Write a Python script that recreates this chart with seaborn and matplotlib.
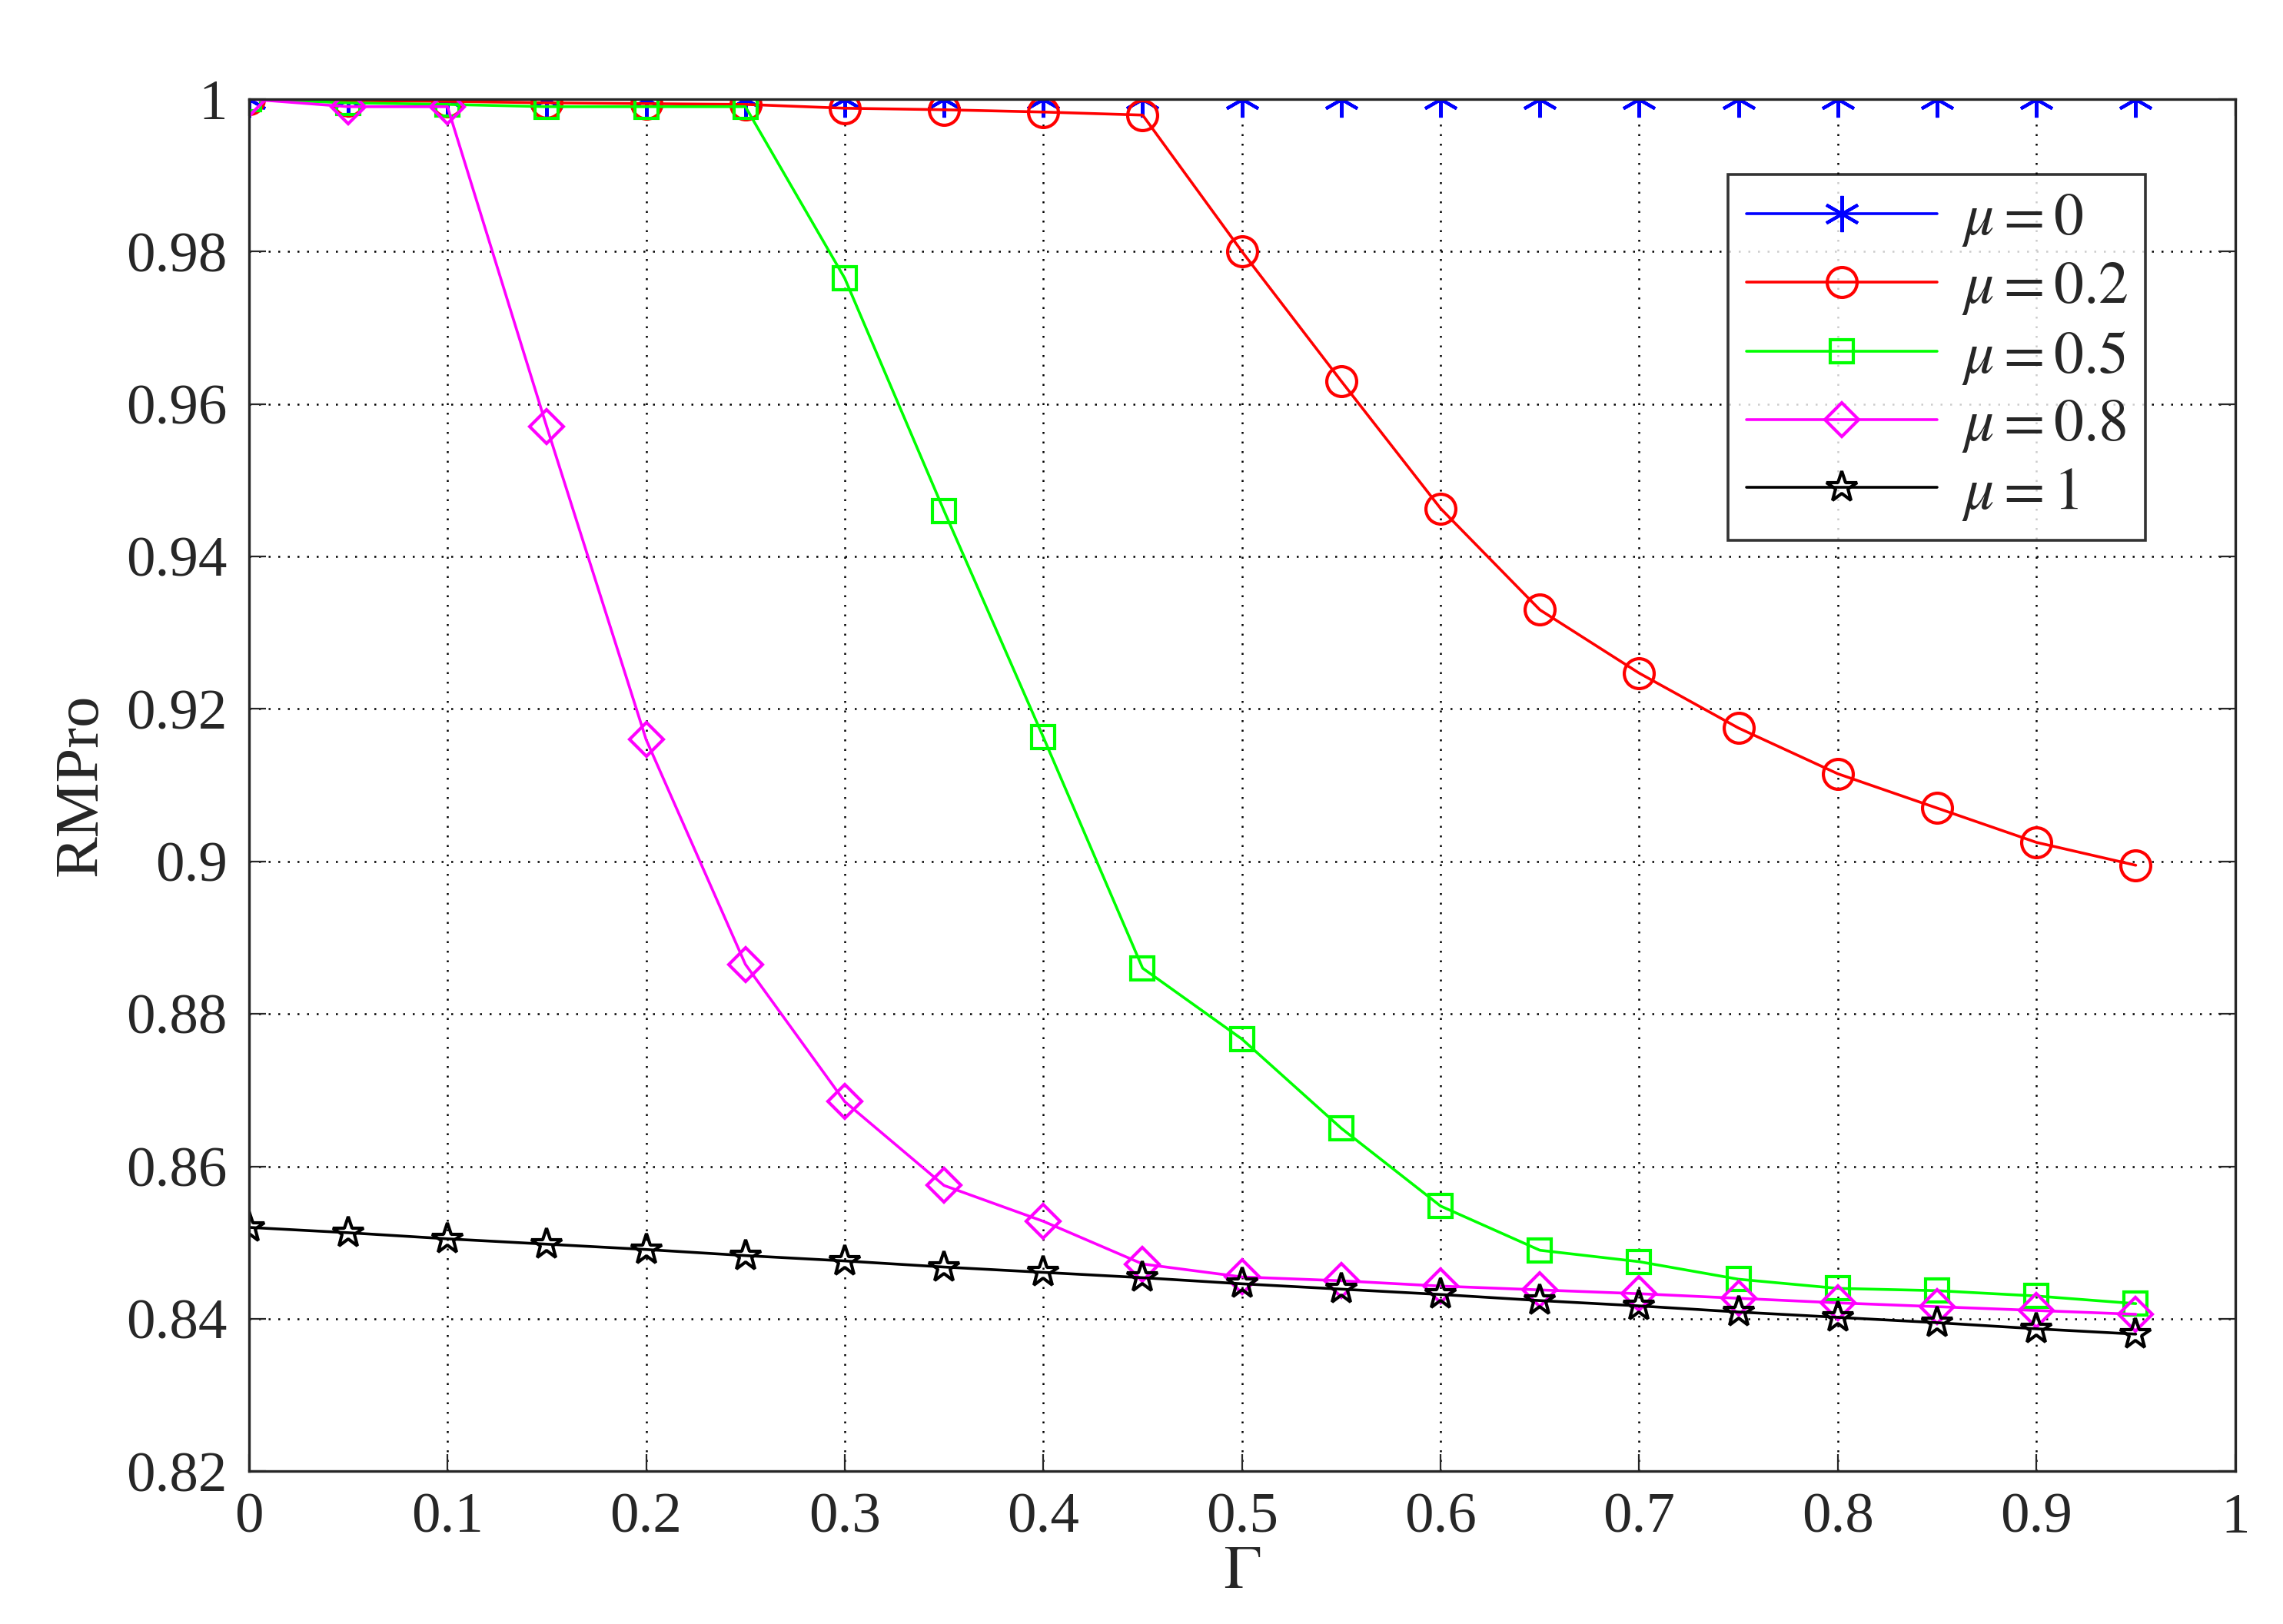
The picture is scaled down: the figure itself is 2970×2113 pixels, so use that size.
import matplotlib
matplotlib.use("Agg")
import matplotlib.pyplot as plt
import seaborn as sns
import pandas as pd
import numpy as np

sns.set_style("ticks")
plt.rcParams['font.family'] = ['Liberation Serif', 'DejaVu Serif']
plt.rcParams['mathtext.fontset'] = 'stix'

gamma = [0, 0.05, 0.1, 0.15, 0.2, 0.25, 0.3, 0.35, 0.4, 0.45, 0.5, 0.55, 0.6, 0.65, 0.7, 0.75, 0.8, 0.85, 0.9, 0.95]
mu_0 = [1.0] * 20
mu_02 = [1, 0.9998, 0.9997, 0.9995, 0.9994, 0.9993, 0.9988, 0.9986, 0.9983, 0.9979, 0.980, 0.963, 0.9463, 0.933, 0.9247, 0.9175, 0.9115, 0.907, 0.9025, 0.8995]
mu_05 = [1, 0.9995, 0.9993, 0.999, 0.999, 0.999, 0.9765, 0.946, 0.9163, 0.886, 0.8767, 0.865, 0.8548, 0.849, 0.8475, 0.8452, 0.844, 0.8437, 0.843, 0.842]
mu_08 = [1, 0.9990, 0.9990, 0.957, 0.916, 0.8865, 0.8685, 0.8575, 0.8528, 0.8472, 0.8455, 0.845, 0.8443, 0.8438, 0.8433, 0.8427, 0.8421, 0.8416, 0.8411, 0.8406]
mu_1 = [0.852, 0.8513, 0.8505, 0.8498, 0.8491, 0.8483, 0.8476, 0.8468, 0.8461, 0.8454, 0.8446, 0.8439, 0.8432, 0.8424, 0.8417, 0.8409, 0.8402, 0.8395, 0.8387, 0.838]

series = [(r'$\mu = 0$', mu_0, 'blue', (6, 2, 0)),
          (r'$\mu = 0.2$', mu_02, 'red', 'o'),
          (r'$\mu = 0.5$', mu_05, '#00ff00', 's'),
          (r'$\mu = 0.8$', mu_08, 'magenta', 'D'),
          (r'$\mu = 1$', mu_1, 'black', '*')]

fig = plt.figure(figsize=(14.85, 10.565), dpi=200)
ax = fig.add_axes([0.109, 0.094, 0.870, 0.845])
for lab, vals, col, mk in series:
    df = pd.DataFrame({'g': gamma, 'v': vals})
    ms = {'o': 14, 's': 11, 'D': 11, '*': 15}.get(mk, 16) if isinstance(mk, str) else 17
    sns.lineplot(data=df, x='g', y='v', ax=ax, color=col, marker=mk, markersize=ms,
                 markerfacecolor='none', markeredgecolor=col, markeredgewidth=1.5,
                 linewidth=1.3, label=lab)

ax.set_xlim(0, 1)
ax.set_ylim(0.82, 1.0)
ax.set_xticks(np.arange(0, 1.01, 0.1))
ax.set_xticklabels(['0', '0.1', '0.2', '0.3', '0.4', '0.5', '0.6', '0.7', '0.8', '0.9', '1'])
ax.set_yticks(np.arange(0.82, 1.001, 0.02))
ax.set_yticklabels(['0.82', '0.84', '0.86', '0.88', '0.9', '0.92', '0.94', '0.96', '0.98', '1'])
ax.grid(True, linestyle=(0, (1, 4)), color='black', linewidth=0.9)
ax.tick_params(direction='in', labelsize=27, length=8, top=True, right=True, pad=10)
for s in ax.spines.values():
    s.set_linewidth(1.2)
ax.set_xlabel(r'$\Gamma$', fontsize=29, labelpad=0)
ax.set_ylabel('RMPro', fontsize=29, labelpad=8)
leg = ax.legend(loc='upper right', bbox_to_anchor=(0.955, 0.945), fontsize=28, frameon=True,
                fancybox=False, edgecolor='black', handlelength=3.2, borderpad=0.3,
                labelspacing=0.2, handletextpad=0.4, borderaxespad=0)
leg.get_frame().set_linewidth(1.3)
fig.savefig('out.png', dpi=200, facecolor='white')
